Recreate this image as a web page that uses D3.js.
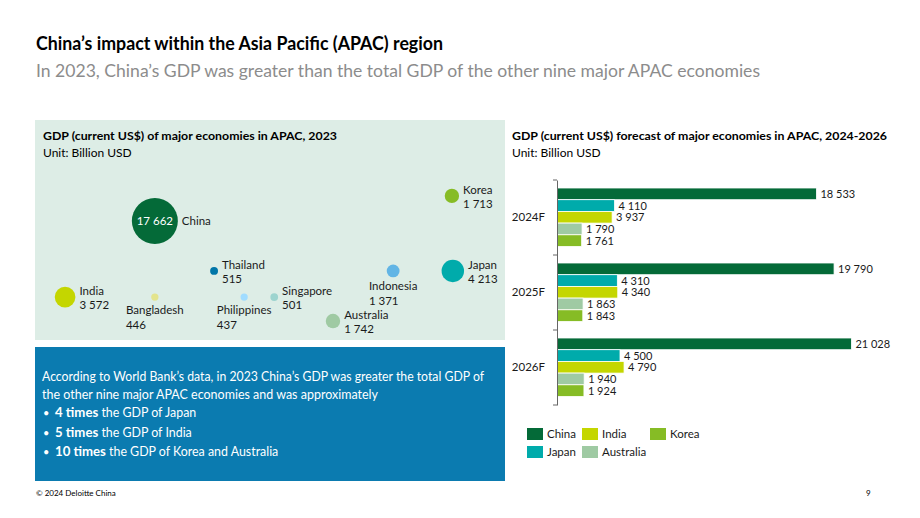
<!DOCTYPE html>
<html><head><meta charset="utf-8">
<script src="https://cdn.jsdelivr.net/npm/d3@7"></script>
<style>
html,body{margin:0;padding:0;background:#fff;}
svg text{font-family:"Lato","Open Sans",sans-serif;}
</style></head>
<body><svg id="c" width="920" height="518"></svg>
<script>
// ---------- data ----------
const countries = ["China","India","Bangladesh","Thailand","Philippines","Singapore","Indonesia","Japan","Korea","Australia"];
const gdp2023   = [17662, 3572, 446, 515, 437, 501, 1371, 4213, 1713, 1742];

const years      = ["2024F","2025F","2026F"];
const seriesNames = ["China","Japan","India","Australia","Korea"];
const chinaF     = [18533, 19790, 21028];
const japanF     = [4110, 4310, 4500];
const indiaF     = [3937, 4340, 4790];
const australiaF = [1790, 1863, 1940];
const koreaF     = [1761, 1843, 1924];
const legendOrder = ["China","India","Korea","Japan","Australia"];

// ---------- layout / style ----------
const bubbleLayout = { // grid units (0-100) within the left panel
  China:[25.5,45.9,"right"], India:[6.4,80.5,"right"], Bangladesh:[25.5,80.5,"below"],
  Thailand:[38.1,68.6,"right"], Philippines:[44.5,80.5,"below"], Singapore:[50.9,80.5,"right"],
  Indonesia:[76.2,68.6,"below"], Japan:[88.9,68.6,"right"], Korea:[88.7,34.5,"right"],
  Australia:[63.4,91.4,"right"]
};
const colors = {
  China:"#046a38", India:"#c4d600", Bangladesh:"#e3e48d", Thailand:"#0076a8",
  Philippines:"#a0dcff", Singapore:"#9dd4cf", Indonesia:"#62b5e5", Japan:"#00abab",
  Korea:"#86bc25", Australia:"#9fcaa3"
};

const fmt = d3.formatLocale({decimal:".",thousands:" ",grouping:[3],currency:["",""]}).format(",");
const svg = d3.select("#c");
const txt = "#1a1a1a";

// titles
svg.append("text").attr("x",36).attr("y",50).attr("font-size",18).attr("font-weight",700)
  .attr("fill","#000").text("China’s impact within the Asia Pacific (APAC) region")
  .attr("textLength",407).attr("lengthAdjust","spacingAndGlyphs");
svg.append("text").attr("x",36).attr("y",77).attr("font-size",18).attr("fill","#8c8c8c")
  .text("In 2023, China’s GDP was greater than the total GDP of the other nine major APAC economies")
  .attr("textLength",724).attr("lengthAdjust","spacingAndGlyphs");

// ---------- left panel: bubbles ----------
const panel = {x0:35,x1:505,y0:120,y1:340};
svg.append("rect").attr("x",panel.x0).attr("y",panel.y0).attr("width",panel.x1-panel.x0)
  .attr("height",panel.y1-panel.y0).attr("fill","#ddede6");
svg.append("text").attr("x",43).attr("y",140).attr("font-size",12).attr("font-weight",700).attr("fill","#000")
  .text("GDP (current US$) of major economies in APAC, 2023")
  .attr("textLength",294).attr("lengthAdjust","spacingAndGlyphs");
svg.append("text").attr("x",43).attr("y",157).attr("font-size",12).attr("fill","#000").text("Unit: Billion USD");

const bx = d3.scaleLinear().domain([0,100]).range([panel.x0,panel.x1]);
const by = d3.scaleLinear().domain([0,100]).range([panel.y0,panel.y1]);
const br = d3.scaleSqrt().domain([0,d3.max(gdp2023)]).range([0,23]);

const bubbles = countries.map((c,i)=>({name:c,value:gdp2023[i],gx:bubbleLayout[c][0],gy:bubbleLayout[c][1],side:bubbleLayout[c][2]}));
const bg = svg.append("g");
bubbles.forEach(d=>{
  const cx=bx(d.gx), cy=by(d.gy), r=br(d.value);
  bg.append("circle").attr("cx",cx).attr("cy",cy).attr("r",r).attr("fill",colors[d.name]);
  if(d.name==="China"){
    bg.append("text").attr("x",cx).attr("y",cy+4).attr("text-anchor","middle").attr("font-size",11.5)
      .attr("fill","#fff").text(fmt(d.value));
    bg.append("text").attr("x",cx+r+4).attr("y",cy+4).attr("font-size",11.5).attr("fill",txt).text(d.name);
  } else if(d.side==="right"){
    const t = bg.append("text").attr("font-size",11.5).attr("fill",txt);
    t.append("tspan").attr("x",cx+r+4).attr("y",cy-2).text(d.name);
    t.append("tspan").attr("x",cx+r+4).attr("y",cy+12).text(fmt(d.value));
  } else {
    const t = bg.append("text").attr("font-size",11.5).attr("fill",txt);
    const s1 = t.append("tspan").attr("y",cy+r+13).text(d.name);
    const w = s1.node().getComputedTextLength();
    s1.attr("x",cx-w/2);
    t.append("tspan").attr("x",cx-w/2).attr("y",cy+r+28).text(fmt(d.value));
  }
});

// ---------- blue text box ----------
svg.append("rect").attr("x",35).attr("y",347).attr("width",470).attr("height",134).attr("fill","#0b7bb0");
const tb = svg.append("g").attr("fill","#fff").attr("font-size",12.4);
tb.append("text").attr("x",42).attr("y",381).text("According to World Bank’s data, in 2023 China’s GDP was greater the total GDP of")
  .attr("textLength",442).attr("lengthAdjust","spacingAndGlyphs");
tb.append("text").attr("x",42).attr("y",399).text("the other nine major APAC economies and was approximately")
  .attr("textLength",336).attr("lengthAdjust","spacingAndGlyphs");
const bullets = [["4 times"," the GDP of Japan"],["5 times"," the GDP of India"],["10 times"," the GDP of Korea and Australia"]];
bullets.forEach((b,i)=>{
  const y = 417+i*19.5;
  tb.append("text").attr("x",43).attr("y",y).attr("font-size",11).text("•");
  const t = tb.append("text").attr("x",55).attr("y",y);
  t.append("tspan").attr("font-weight",700).attr("font-size",13.2).text(b[0]);
  t.append("tspan").attr("font-size",12.4).text(b[1]);
});

// ---------- right: bar chart ----------
svg.append("text").attr("x",512).attr("y",140).attr("font-size",12).attr("font-weight",700).attr("fill","#000")
  .text("GDP (current US$) forecast of major economies in APAC, 2024-2026")
  .attr("textLength",375).attr("lengthAdjust","spacingAndGlyphs");
svg.append("text").attr("x",512).attr("y",157).attr("font-size",12).attr("fill","#000").text("Unit: Billion USD");

const seriesVals = {China:chinaF,Japan:japanF,India:indiaF,Australia:australiaF,Korea:koreaF};
const y0 = d3.scaleBand().domain(years).range([180,405]).padding(0);
const y1 = d3.scaleBand().domain(seriesNames).range([8,y0.bandwidth()-8.5]).padding(0);
const x = d3.scaleLinear().domain([0,22000]).range([557,865]);

const bars = svg.append("g");
years.forEach((yr,yi)=>{
  seriesNames.forEach(s=>{
    const v = seriesVals[s][yi];
    const top = y0(yr)+y1(s);
    bars.append("rect").attr("x",x(0)).attr("y",top).attr("width",x(v)-x(0)).attr("height",y1.bandwidth())
      .attr("fill",colors[s]).attr("stroke","#fff").attr("stroke-width",0.8);
    bars.append("text").attr("x",x(v)+4).attr("y",top+y1.bandwidth()/2+4).attr("font-size",11)
      .attr("fill",txt).text(fmt(v));
  });
});

// axis
const ax = svg.append("g").attr("transform",`translate(${x(0)},0)`)
  .call(d3.axisLeft(y0).tickSize(0).tickPadding(12));
ax.select(".domain").attr("stroke","#666");
ax.selectAll("text").attr("font-size",11.5).attr("fill",txt).style("font-family","Lato");
const bounds = years.map(d=>y0(d)).concat([y0(years[years.length-1])+y0.bandwidth()]);
ax.selectAll("line.b").data(bounds).enter().append("line").attr("class","b")
  .attr("x1",-4).attr("x2",0).attr("y1",d=>d).attr("y2",d=>d).attr("stroke","#666");

// legend
const lg = svg.append("g");
const lcols = [527,582,650];
legendOrder.forEach((s,i)=>{
  const col = i<3 ? i : i-3, row = i<3 ? 0 : 1;
  const lx = lcols[col], ly = 428+row*18;
  lg.append("rect").attr("x",lx).attr("y",ly).attr("width",16).attr("height",12).attr("fill",colors[s]);
  lg.append("text").attr("x",lx+20).attr("y",ly+10).attr("font-size",11.5).attr("fill",txt).text(s);
});

// footer
svg.append("text").attr("x",36).attr("y",496).attr("font-size",8).attr("fill","#000").text("© 2024 Deloitte China");
svg.append("text").attr("x",866).attr("y",496).attr("font-size",8).attr("fill","#000").text("9");
</script></body></html>
